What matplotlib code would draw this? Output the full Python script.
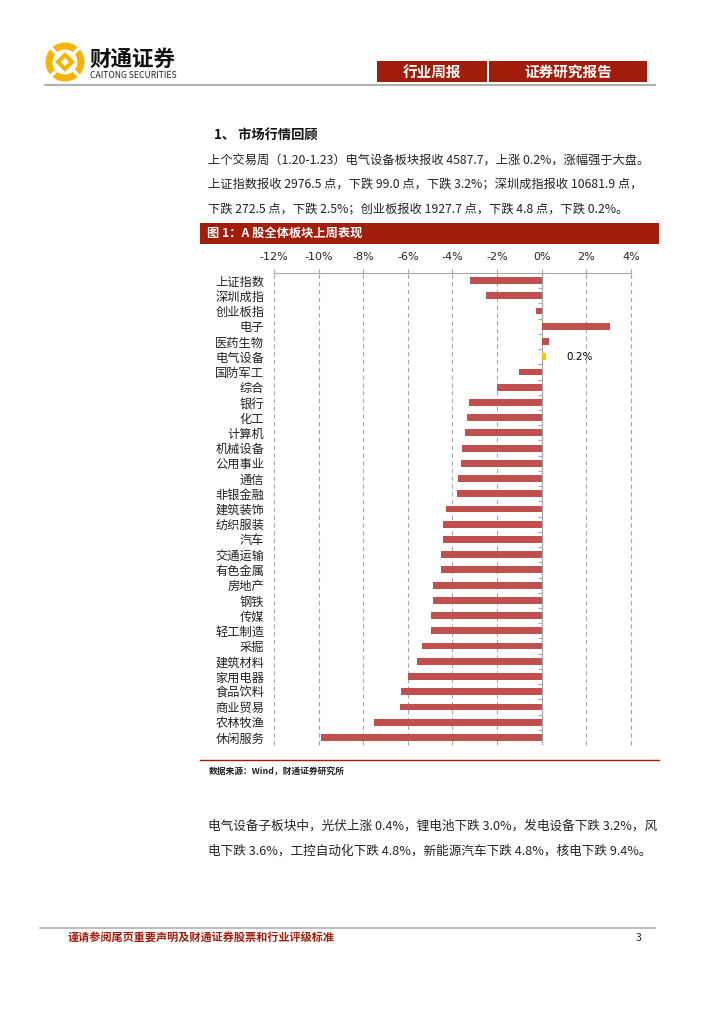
import matplotlib.pyplot as plt
import matplotlib.patches as mpatches
import numpy as np

plt.rcParams['font.family'] = ['Noto Sans CJK SC', 'DejaVu Sans']

# sector performance last week (%)
categories = ["上证指数", "深圳成指", "创业板指", "电子", "医药生物", "电气设备", "国防军工",
              "综合", "银行", "化工", "计算机", "机械设备", "公用事业", "通信", "非银金融",
              "建筑装饰", "纺织服装", "汽车", "交通运输", "有色金属", "房地产", "钢铁", "传媒",
              "轻工制造", "采掘", "建筑材料", "家用电器", "食品饮料", "商业贸易", "农林牧渔", "休闲服务"]
values = [-3.2, -2.5, -0.25, 3.05, 0.33, 0.2, -1.0,
          -2.0, -3.26, -3.35, -3.44, -3.56, -3.6, -3.75, -3.82,
          -4.3, -4.42, -4.42, -4.5, -4.53, -4.88, -4.88, -4.97,
          -4.97, -5.37, -5.61, -5.99, -6.31, -6.36, -7.51, -9.91]
highlight = "电气设备"
xticks = [-12, -10, -8, -6, -4, -2, 0, 2, 4]

W, H = 724, 1024
RED = "#a21d0b"
BAR = "#c0504d"
GRID = "#a6a6a6"


def box(x, y, w, h):
    return [x / W, 1 - (y + h) / H, w / W, h / H]


fig = plt.figure(figsize=(W / 100, H / 100), dpi=100)

# page decoration layer in pixel coords
bg = fig.add_axes([0, 0, 1, 1])
bg.set_xlim(0, W)
bg.set_ylim(H, 0)
bg.axis('off')

# logo
logo_c = (65, 62)
bg.add_patch(mpatches.Circle(logo_c, 16, fc="none", ec="#f5b400", lw=5))
bg.add_patch(mpatches.RegularPolygon(logo_c, 4, radius=7, fc="none", ec="#f5b400", lw=3))
for ang in [45, 135, 225, 315]:
    t = np.deg2rad(ang)
    bg.plot([logo_c[0] + 12 * np.cos(t), logo_c[0] + 19 * np.cos(t)],
            [logo_c[1] + 12 * np.sin(t), logo_c[1] + 19 * np.sin(t)], color="white", lw=2.5)
bg.text(89, 59, "财通证券", fontsize=15.5, fontweight="bold", va="center", ha="left", color="#111")
bg.text(90, 75, "CAITONG SECURITIES", fontsize=6.2, va="center", ha="left", color="#222")

# header boxes
bg.add_patch(mpatches.Rectangle((377, 61), 110, 21, fc=RED, ec="none"))
bg.add_patch(mpatches.Rectangle((489, 61), 158, 21, fc=RED, ec="none"))
bg.text(432, 71.5, "行业周报", color="white", fontsize=10.5, fontweight="bold", ha="center", va="center")
bg.text(568, 71.5, "证券研究报告", color="white", fontsize=10.5, fontweight="bold", ha="center", va="center")
bg.plot([45, 655], [85, 85], color="#b0b0b0", lw=1.5)

# section text
bg.text(214, 136, "1、 市场行情回顾", fontsize=9.5, fontweight="bold", va="center", color="#111")
para = ["上个交易周（1.20-1.23）电气设备板块报收 4587.7，上涨 0.2%，涨幅强于大盘。",
        "上证指数报收 2976.5 点，下跌 99.0 点，下跌 3.2%；深圳成指报收 10681.9 点，",
        "下跌 272.5 点，下跌 2.5%；创业板报收 1927.7 点，下跌 4.8 点，下跌 0.2%。"]
for i, line in enumerate(para):
    bg.text(208, 161 + i * 24, line, fontsize=8.8, va="center", color="#222")

# figure title bar
bg.add_patch(mpatches.Rectangle((200, 223), 459, 21, fc=RED, ec="none"))
bg.text(207, 233.5, "图 1：A 股全体板块上周表现", color="white", fontsize=8.8, fontweight="bold", va="center")

# bottom rule and source
bg.plot([200, 659], [760, 760], color=RED, lw=1)
bg.text(209, 772, "数据来源：Wind，财通证券研究所", fontsize=6.3, fontweight="bold", va="center", color="#222")

para2 = ["电气设备子板块中，光伏上涨 0.4%，锂电池下跌 3.0%，发电设备下跌 3.2%，风",
         "电下跌 3.6%，工控自动化下跌 4.8%，新能源汽车下跌 4.8%，核电下跌 9.4%。"]
for i, line in enumerate(para2):
    bg.text(208, 826 + i * 25, line, fontsize=9.1, va="center", color="#222")

# footer
bg.plot([40, 655], [928, 928], color="#b0b0b0", lw=1.2)
bg.text(68, 938, "谨请参阅尾页重要声明及财通证券股票和行业评级标准", fontsize=8, fontweight="bold",
        color=RED, va="center")
bg.text(636, 938, "3", fontsize=7.5, va="center", color="#222")

# bar chart
ax = fig.add_axes(box(274, 273, 357, 472))
n = len(categories)
y = np.arange(n)
colors = ["#ffc000" if c == highlight else BAR for c in categories]
ax.barh(y, values, height=0.45, color=colors, zorder=3)
ax.set_ylim(n - 0.5, -0.5)
ax.set_xlim(xticks[0], xticks[-1])
ax.set_xticks(xticks)
ax.set_xticklabels([f"{v}%" for v in xticks], fontsize=8, family=["DejaVu Sans"])
ax.xaxis.tick_top()
ax.tick_params(axis='x', length=3, pad=5, colors=GRID, labelcolor="#222")
ax.set_yticks(y)
ax.set_yticklabels(categories, fontsize=8.8, color="#222")
ax.tick_params(axis='y', length=0, pad=7)
ax.set_axisbelow(True)
for v in xticks:
    if v != 0:
        ax.axvline(v - 0.02 if v == xticks[-1] else v, linestyle=(0, (4, 3)), color=GRID,
                   lw=0.8, zorder=0, clip_on=False)
for s in ["left", "right", "bottom"]:
    ax.spines[s].set_visible(False)
ax.spines["top"].set_color(GRID)
ax.axvline(0, color=GRID, lw=0.9, zorder=2)
ax.hlines(np.arange(n + 1) - 0.5, -0.18, 0, color=GRID, lw=0.8, zorder=2)
hi = categories.index(highlight)
ax.text(values[hi] + 0.9, hi, f"{values[hi]:.1f}%", va="center", fontsize=7.5, family=["DejaVu Sans"])

fig.savefig("out.png", dpi=100)
